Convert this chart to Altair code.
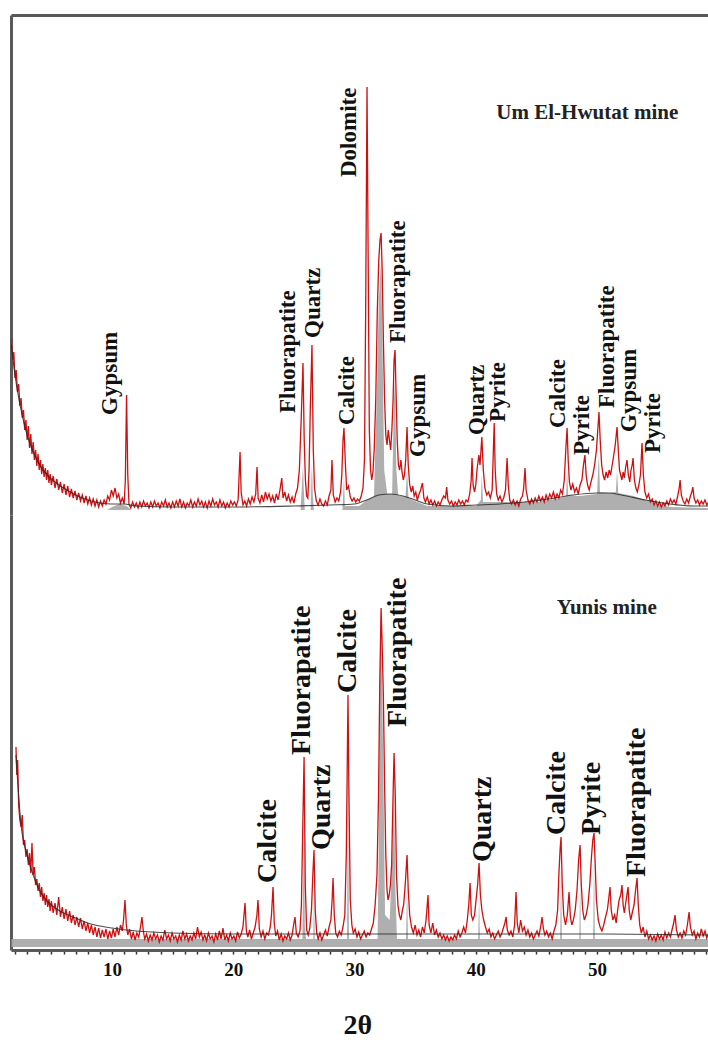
import altair as alt
import pandas as pd

# ---------------- data (2-theta, intensity) ----------------
UPPER_TRACE = [
(1.70,172),(1.80,150),(1.90,158),(2.00,132),(2.10,140),(2.20,118),(2.30,126),(2.40,104),(2.50,112),(2.60,92),
(2.70,100),(2.80,80),(2.90,90),(3.00,70),(3.10,84),(3.20,62),(3.30,76),(3.40,56),(3.50,68),(3.60,50),
(3.70,60),(3.80,44),(3.90,56),(4.00,40),(4.10,50),(4.20,36),(4.30,46),(4.40,33),(4.50,42),(4.60,30),
(4.70,40),(4.80,27),(4.90,36),(5.00,25),(5.15,34),(5.30,22),(5.45,31),(5.60,20),(5.75,28),(5.90,17),
(6.05,26),(6.20,15),(6.35,24),(6.50,13),(6.65,21),(6.80,12),(6.95,19),(7.10,10),(7.25,17),(7.40,9),
(7.55,15),(7.70,7),(7.85,14),(8.00,6),(8.15,12),(8.30,5),(8.45,11),(8.60,4),(8.75,10),(8.90,3),
(9.05,9),(9.20,4),(9.35,10),(9.50,6),(9.65,14),(9.80,10),(9.95,20),(10.10,14),(10.25,22),(10.40,12),
(10.55,16),(10.70,7),(10.85,12),(11.00,6),(11.10,30),(11.20,115),(11.30,35),(11.40,6),(11.55,2),(11.70,8),
(11.85,3),(12.00,7),(12.15,2),(12.30,8),(12.45,3),(12.60,9),(12.75,4),(12.90,7),(13.05,2),(13.20,8),
(13.35,3),(13.50,9),(13.65,4),(13.80,7),(13.95,2),(14.10,8),(14.25,4),(14.40,10),(14.55,3),(14.70,7),
(14.85,2),(15.00,8),(15.15,3),(15.30,9),(15.45,4),(15.60,11),(15.75,3),(15.90,8),(16.05,2),(16.20,7),
(16.35,4),(16.50,10),(16.65,3),(16.80,8),(16.95,4),(17.10,11),(17.25,5),(17.40,9),(17.55,3),(17.70,8),
(17.85,2),(18.00,9),(18.15,4),(18.30,11),(18.45,5),(18.60,8),(18.75,3),(18.90,10),(19.05,4),(19.20,8),
(19.35,2),(19.50,7),(19.65,3),(19.80,9),(19.95,5),(20.10,8),(20.25,4),(20.40,10),(20.50,40),(20.56,58),
(20.65,18),(20.80,5),(20.95,9),(21.10,4),(21.25,11),(21.40,6),(21.55,13),(21.70,8),(21.85,16),(21.96,43),
(22.05,12),(22.20,7),(22.35,15),(22.50,8),(22.65,18),(22.80,11),(22.95,16),(23.10,9),(23.25,14),(23.40,7),
(23.55,16),(23.70,10),(23.85,20),(24.00,32),(24.10,12),(24.25,18),(24.40,9),(24.55,15),(24.70,8),(24.85,13),
(25.00,7),(25.15,16),(25.30,22),(25.45,40),(25.60,90),(25.75,147),(25.85,70),(25.95,30),(26.05,14),(26.15,12),
(26.25,40),(26.35,100),(26.49,165),(26.60,60),(26.70,22),(26.85,9),(27.00,5),(27.15,11),(27.30,6),(27.45,4),
(27.60,9),(27.75,5),(27.90,14),(28.05,20),(28.14,50),(28.25,15),(28.40,8),(28.55,12),(28.70,9),(28.85,18),
(28.95,35),(29.05,70),(29.13,82),(29.25,45),(29.35,20),(29.50,24),(29.65,13),(29.80,9),(29.95,12),(30.10,8),
(30.25,11),(30.40,9),(30.55,14),(30.70,22),(30.82,50),(30.92,200),(31.03,423),(31.12,260),(31.22,80),(31.32,40),
(31.42,30),(31.52,38),(31.62,60),(31.75,110),(31.88,200),(32.00,250),(32.10,270),(32.19,277),(32.28,240),(32.38,170),
(32.48,110),(32.58,75),(32.68,65),(32.78,80),(32.88,70),(32.98,60),(33.08,80),(33.18,110),(33.26,150),(33.34,160),
(33.42,120),(33.52,70),(33.62,45),(33.72,40),(33.82,50),(33.92,38),(34.02,30),(34.12,35),(34.22,50),(34.33,83),
(34.43,45),(34.55,25),(34.68,18),(34.80,24),(34.92,14),(35.05,18),(35.18,10),(35.30,15),(35.45,20),(35.60,27),
(35.72,12),(35.85,8),(36.00,13),(36.15,6),(36.30,10),(36.45,5),(36.60,9),(36.75,4),(36.90,8),(37.05,5),
(37.20,10),(37.35,14),(37.50,12),(37.60,23),(37.70,10),(37.85,6),(38.00,9),(38.15,4),(38.30,8),(38.45,5),
(38.60,10),(38.75,6),(38.90,9),(39.05,5),(39.20,10),(39.35,8),(39.50,16),(39.62,30),(39.69,52),(39.78,25),
(39.90,18),(40.00,25),(40.10,40),(40.25,55),(40.35,45),(40.50,73),(40.62,40),(40.75,22),(40.90,15),(41.05,18),
(41.20,12),(41.35,20),(41.45,60),(41.52,87),(41.60,40),(41.72,16),(41.85,10),(42.00,14),(42.15,8),(42.30,12),
(42.45,20),(42.58,52),(42.68,25),(42.80,10),(42.95,6),(43.10,10),(43.25,5),(43.40,9),(43.55,4),(43.70,11),
(43.85,14),(43.95,22),(44.06,42),(44.15,20),(44.30,10),(44.45,6),(44.60,11),(44.75,7),(44.90,12),(45.05,8),
(45.20,14),(45.35,9),(45.50,13),(45.65,8),(45.80,15),(45.95,10),(46.10,16),(46.25,12),(46.40,18),(46.55,11),
(46.70,16),(46.85,12),(47.00,20),(47.15,16),(47.30,30),(47.42,60),(47.53,82),(47.62,50),(47.72,28),(47.85,20),
(48.00,26),(48.15,18),(48.30,22),(48.45,16),(48.60,25),(48.75,30),(48.88,45),(49.00,55),(49.10,35),(49.22,25),
(49.35,20),(49.50,28),(49.65,35),(49.80,45),(49.95,60),(50.06,80),(50.16,98),(50.26,70),(50.38,45),(50.50,35),
(50.62,30),(50.75,38),(50.88,32),(51.00,40),(51.12,35),(51.25,45),(51.38,55),(51.50,65),(51.65,83),(51.75,60),
(51.85,40),(51.95,35),(52.05,30),(52.15,38),(52.25,32),(52.35,42),(52.47,50),(52.58,35),(52.70,28),(52.80,40),
(52.90,45),(52.97,52),(53.08,30),(53.20,22),(53.32,18),(53.45,25),(53.58,35),(53.71,67),(53.82,35),(53.95,18),
(54.10,12),(54.25,16),(54.40,8),(54.55,11),(54.70,5),(54.85,9),(55.00,4),(55.15,8),(55.30,3),(55.45,7),
(55.60,4),(55.75,9),(55.90,5),(56.05,11),(56.20,7),(56.35,10),(56.50,6),(56.65,14),(56.78,22),(56.85,30),
(56.95,15),(57.10,9),(57.25,6),(57.40,11),(57.55,7),(57.70,14),(57.82,18),(57.90,23),(58.00,12),(58.15,7),
(58.30,10),(58.45,5),(58.60,9),(58.75,6),(58.90,10),(59.05,5),(59.20,8),
]

UPPER_BACKGROUND = [
(1.7,165),(2.0,135),(2.5,100),(3.0,75),(3.5,58),(4.0,46),(5.0,31),(6.0,22),(7.0,15),(8.0,10),(9.0,7),
(10.0,6),(11.0,6),(12.0,4),(15.0,3),(20.0,3),(25.0,4),(28.0,5),(30.0,6),(31.0,10),(32.0,15),(33.0,16),
(34.0,14),(35.0,10),(36.0,6),(38.0,4),(40.0,5),(42.0,6),(44.0,8),(46.0,11),(48.0,15),(50.0,17),(51.0,17),
(52.0,15),(54.0,10),(56.0,6),(58.0,4),(59.2,4),
]

UPPER_GRAY = [
(1.7,0),(9.6,0),(10.0,3),(10.6,6),(11.2,4),(11.6,0),(25.55,0),(25.68,30),(25.75,45),(25.82,20),(25.9,0),
(26.38,0),(26.45,35),(26.49,45),(26.56,15),(26.65,0),(29.0,0),(29.1,25),(29.13,35),(29.2,4),(30.4,4),
(31.0,10),(31.6,13),(31.85,120),(32.0,210),(32.19,250),(32.3,170),(32.45,40),(32.7,16),(33.1,16),
(33.25,110),(33.34,130),(33.45,40),(33.6,15),(34.2,13),(34.33,40),(34.45,12),(35.0,9),(36.0,4),
(40.0,4),(40.42,10),(40.5,35),(40.6,8),(45.0,8),(47.0,12),(47.45,14),(47.53,40),(47.62,15),(48.5,14),
(50.0,16),(50.1,45),(50.16,55),(50.24,18),(51.0,17),(51.55,18),(51.65,40),(51.75,17),(53.0,14),(54.0,10),
(55.0,6),(56.0,3),(59.2,2),
]

LOWER_TRACE = [
(2.08,198),(2.15,170),(2.22,185),(2.30,140),(2.40,125),(2.50,118),(2.60,130),(2.70,100),(2.80,105),(2.90,88),
(3.00,96),(3.10,80),(3.20,92),(3.30,72),(3.40,102),(3.50,70),(3.60,78),(3.70,60),(3.80,66),(3.90,54),
(4.00,62),(4.10,48),(4.20,58),(4.30,44),(4.40,52),(4.50,40),(4.60,50),(4.70,38),(4.80,46),(4.90,34),
(5.00,44),(5.15,32),(5.30,42),(5.45,30),(5.60,48),(5.75,28),(5.90,38),(6.05,26),(6.20,36),(6.35,24),
(6.50,34),(6.65,22),(6.80,30),(6.95,20),(7.10,28),(7.25,18),(7.40,27),(7.55,16),(7.70,24),(7.85,14),
(8.00,22),(8.15,12),(8.30,20),(8.45,10),(8.60,18),(8.75,8),(8.90,17),(9.05,7),(9.20,15),(9.35,8),
(9.50,16),(9.65,6),(9.80,14),(9.95,7),(10.10,16),(10.25,8),(10.40,18),(10.55,10),(10.70,20),(10.85,14),
(10.95,25),(11.07,45),(11.18,20),(11.30,10),(11.45,16),(11.60,6),(11.75,13),(11.90,5),(12.05,12),(12.20,8),
(12.35,18),(12.47,28),(12.58,14),(12.70,6),(12.85,11),(13.00,4),(13.15,10),(13.30,5),(13.45,12),(13.60,6),
(13.75,10),(13.90,3),(14.05,9),(14.20,5),(14.35,15),(14.50,6),(14.65,10),(14.80,4),(14.95,12),(15.10,6),
(15.25,9),(15.40,3),(15.55,10),(15.70,5),(15.85,14),(16.00,6),(16.15,11),(16.30,4),(16.45,9),(16.60,5),
(16.75,12),(16.90,6),(17.05,18),(17.20,8),(17.35,13),(17.50,5),(17.65,10),(17.80,4),(17.95,12),(18.10,6),
(18.25,9),(18.40,3),(18.55,11),(18.70,5),(18.85,14),(19.00,6),(19.15,17),(19.30,5),(19.45,10),(19.60,4),
(19.75,12),(19.90,6),(20.05,9),(20.20,4),(20.35,13),(20.50,7),(20.65,11),(20.80,18),(20.97,42),(21.08,14),
(21.20,8),(21.35,15),(21.50,6),(21.65,12),(21.80,18),(21.95,30),(22.04,45),(22.15,16),(22.30,8),(22.45,14),
(22.60,6),(22.75,12),(22.90,10),(23.05,18),(23.15,30),(23.28,58),(23.38,22),(23.50,9),(23.65,14),(23.80,5),
(23.95,11),(24.10,4),(24.25,9),(24.40,6),(24.55,12),(24.70,5),(24.85,10),(24.95,18),(25.09,28),(25.20,12),
(25.35,8),(25.50,14),(25.62,40),(25.72,110),(25.84,188),(25.94,60),(26.05,15),(26.18,10),(26.30,16),(26.45,35),
(26.56,70),(26.66,95),(26.76,35),(26.88,12),(27.00,6),(27.15,12),(27.30,5),(27.45,10),(27.60,15),(27.75,9),
(27.90,18),(28.05,25),(28.15,45),(28.23,67),(28.33,30),(28.45,12),(28.60,8),(28.75,14),(28.90,10),(29.05,18),
(29.20,30),(29.32,90),(29.40,180),(29.46,250),(29.54,150),(29.65,45),(29.78,20),(29.90,12),(30.05,16),(30.20,8),
(30.35,13),(30.50,6),(30.65,10),(30.80,14),(30.95,8),(31.10,12),(31.25,10),(31.40,16),(31.55,22),(31.70,40),
(31.85,70),(31.98,150),(32.08,260),(32.19,337),(32.28,300),(32.38,248),(32.48,160),(32.58,90),(32.68,55),(32.76,45),
(32.86,50),(32.96,60),(33.06,80),(33.16,140),(33.26,192),(33.36,150),(33.46,70),(33.58,40),(33.70,30),(33.82,25),
(33.95,35),(34.05,40),(34.18,60),(34.33,90),(34.43,55),(34.55,30),(34.70,18),(34.85,12),(35.00,20),(35.15,10),
(35.30,15),(35.45,8),(35.60,18),(35.75,12),(35.90,25),(36.06,50),(36.15,20),(36.30,12),(36.45,22),(36.60,10),
(36.75,15),(36.90,8),(37.05,12),(37.20,6),(37.35,10),(37.50,5),(37.65,9),(37.80,4),(37.95,8),(38.10,5),
(38.25,10),(38.40,6),(38.55,14),(38.70,8),(38.85,12),(39.00,18),(39.15,12),(39.30,25),(39.42,40),(39.53,62),
(39.63,30),(39.75,25),(39.90,30),(40.02,45),(40.15,60),(40.27,82),(40.38,50),(40.50,35),(40.65,25),(40.80,18),
(40.95,12),(41.10,16),(41.25,8),(41.40,12),(41.55,6),(41.70,10),(41.85,14),(42.00,8),(42.15,12),(42.30,18),
(42.40,22),(42.50,28),(42.60,15),(42.75,10),(42.90,14),(43.05,8),(43.20,20),(43.32,53),(43.42,22),(43.55,12),
(43.70,25),(43.85,14),(44.00,18),(44.15,10),(44.30,15),(44.45,8),(44.60,12),(44.75,6),(44.90,10),(45.05,14),
(45.20,9),(45.35,18),(45.46,28),(45.58,16),(45.70,10),(45.85,14),(46.00,8),(46.15,12),(46.30,6),(46.45,14),
(46.60,20),(46.75,35),(46.85,70),(46.95,95),(47.03,108),(47.13,60),(47.25,30),(47.40,20),(47.55,30),(47.69,53),
(47.80,28),(47.92,20),(48.05,25),(48.20,35),(48.35,55),(48.48,85),(48.60,100),(48.70,60),(48.82,35),(48.95,25),
(49.10,30),(49.25,40),(49.40,60),(49.55,90),(49.65,105),(49.75,112),(49.85,80),(49.95,45),(50.10,25),(50.25,18),
(50.40,14),(50.55,20),(50.70,28),(50.85,35),(50.95,45),(51.07,58),(51.17,35),(51.30,25),(51.45,30),(51.58,22),
(51.70,35),(51.82,45),(51.95,50),(52.06,60),(52.15,40),(52.25,32),(52.40,45),(52.56,58),(52.65,35),(52.78,25),
(52.90,32),(53.05,40),(53.18,55),(53.30,67),(53.40,40),(53.52,20),(53.65,12),(53.80,18),(53.95,8),(54.10,14),
(54.25,6),(54.40,10),(54.55,5),(54.70,9),(54.85,4),(55.00,11),(55.15,6),(55.30,10),(55.45,5),(55.60,13),
(55.75,7),(55.90,12),(56.05,8),(56.20,16),(56.32,22),(56.43,30),(56.55,15),(56.70,8),(56.85,12),(57.00,7),
(57.15,14),(57.30,10),(57.45,20),(57.59,33),(57.70,18),(57.85,10),(58.00,14),(58.15,6),(58.30,12),(58.45,8),
(58.60,16),(58.75,9),(58.90,14),(59.05,7),(59.20,12),
]

LOWER_BACKGROUND = [
(2.08,190),(2.5,120),(3.0,90),(3.5,70),(4.0,55),(5.0,40),(6.0,32),(7.0,27),(8.0,22),(9.0,19),(10.0,17),
(12.0,14),(15.0,12),(20.0,11),(30.0,11),(40.0,11),(50.0,11),(59.2,10),
]

LOWER_GRAY = [
(1.7,6),(25.7,6),(25.78,80),(25.84,150),(25.9,20),(26.0,6),(26.6,6),(26.66,60),(26.72,6),(29.38,6),
(29.46,200),(29.54,6),(31.9,6),(32.0,100),(32.1,280),(32.19,320),(32.28,260),(32.4,150),(32.52,30),
(32.9,25),(33.15,100),(33.26,170),(33.36,60),(33.5,6),(34.25,6),(34.33,60),(34.41,6),(40.2,6),(40.27,50),
(40.34,6),(46.96,6),(47.03,80),(47.1,6),(48.54,6),(48.6,70),(48.66,6),(49.68,6),(49.75,90),(49.82,6),(59.2,6),
]

UPPER_LABEL_TEXT = ["Gypsum", "Fluorapatite", "Quartz", "Calcite", "Dolomite", "Fluorapatite", "Gypsum",
                    "Quartz", "Pyrite", "Calcite", "Pyrite", "Fluorapatite", "Gypsum", "Pyrite"]
UPPER_LABEL_X = [9.84, 24.5, 26.6, 29.4, 29.55, 33.6, 35.2, 40.1, 41.8, 46.8, 48.8, 50.8, 52.6, 54.6]
UPPER_LABEL_Y = [95, 97, 172, 85, 333, 167, 53, 75, 88, 82, 55, 102, 78, 57]

LOWER_LABEL_TEXT = ["Calcite", "Fluorapatite", "Quartz", "Calcite", "Fluorapatite", "Quartz",
                    "Calcite", "Pyrite", "Fluorapatite"]
LOWER_LABEL_X = [22.9, 25.7, 27.3, 29.5, 33.6, 40.6, 46.7, 49.6, 53.3]
LOWER_LABEL_Y = [62, 190, 95, 252, 218, 83, 110, 110, 68]

PANEL_TITLES = ["Um El-Hwutat mine", "Yunis mine"]
PANEL_TITLE_X = [49.2, 50.8]
PANEL_TITLE_Y = [397, 337]

X_TICKS = list(range(2, 60))

# ---------------- chart ----------------
FONT = "Liberation Serif"
RED = "#d01010"
FRAME = "#5a5a5a"
X_DOMAIN = [1.67, 59.15]


def df(pairs):
    return pd.DataFrame(pairs, columns=["t", "i"])


def panel(trace, background, gray, gray_base, labels, title, ydom, height, bottom):
    xscale = alt.Scale(domain=X_DOMAIN, nice=False, zero=False)
    if bottom:
        xaxis = alt.Axis(orient="bottom", values=X_TICKS, title="2θ",
                         labelExpr="datum.value % 10 == 0 ? datum.label : ''",
                         labelFont=FONT, labelFontWeight="bold", labelFontSize=19, labelColor="#111",
                         labelPadding=6, labelFlush=False, labelOverlap=False,
                         tickSize=4, tickColor="#333", tickWidth=1.5,
                         domainColor=FRAME, domainWidth=3, grid=False,
                         titleFont=FONT, titleFontWeight="bold", titleFontSize=28, titleColor="#111",
                         titlePadding=32, titleX=332, titleAnchor="start")
    else:
        xaxis = alt.Axis(orient="top", labels=False, ticks=False, title=None,
                         domainColor=FRAME, domainWidth=3, grid=False)
    yaxis = alt.Axis(labels=False, ticks=False, title=None, domainColor=FRAME, domainWidth=3, grid=False)
    X = alt.X("t:Q", scale=xscale, axis=xaxis)
    Y = alt.Y("i:Q", scale=alt.Scale(domain=ydom, nice=False, zero=False), axis=yaxis)

    g = alt.Chart(df(gray)).mark_area(color="#a6a6a6", opacity=0.9, clip=True).encode(
        x=X, y=Y, y2=alt.datum(gray_base))
    r = alt.Chart(df(trace)).mark_line(color=RED, strokeWidth=1.3, clip=True).encode(x=X, y=Y)
    b = alt.Chart(df(background)).mark_line(color="#2a2a2a", strokeWidth=1.1, opacity=0.85,
                                            interpolate="monotone", clip=True).encode(x=X, y=Y)
    lt, lx, ly, fs = labels
    ldf = pd.DataFrame({"t": lx, "i": ly, "txt": lt})
    lab = alt.Chart(ldf).mark_text(angle=270, align="left", baseline="middle", font=FONT,
                                   fontWeight="bold", fontSize=fs, color="#111").encode(
        x=X, y=Y, text="txt:N")
    ttxt, tx, ty = title
    tdf = pd.DataFrame({"t": [tx], "i": [ty], "txt": [ttxt]})
    tt = alt.Chart(tdf).mark_text(align="center", baseline="middle", font=FONT, fontWeight="bold",
                                  fontSize=21, color="#222").encode(x=X, y=Y, text="txt:N")
    return alt.layer(g, r, b, lab, tt).properties(width=697, height=height)


upper = panel(UPPER_TRACE, UPPER_BACKGROUND, UPPER_GRAY, 0,
              (UPPER_LABEL_TEXT, UPPER_LABEL_X, UPPER_LABEL_Y, 23),
              (PANEL_TITLES[0], PANEL_TITLE_X[0], PANEL_TITLE_Y[0]),
              [-5, 495], 500, False)
lower = panel(LOWER_TRACE, LOWER_BACKGROUND, LOWER_GRAY, -2,
              (LOWER_LABEL_TEXT, LOWER_LABEL_X, LOWER_LABEL_Y, 28),
              (PANEL_TITLES[1], PANEL_TITLE_X[1], PANEL_TITLE_Y[1]),
              [-5, 430], 435, True)

chart = alt.vconcat(upper, lower, spacing=0).properties(
    padding={"left": 11, "top": 15, "right": 0, "bottom": 0},
    background="white",
).configure_view(stroke="transparent", strokeWidth=0)

chart.save("out.html", embed_options={"renderer": "svg", "actions": False})
